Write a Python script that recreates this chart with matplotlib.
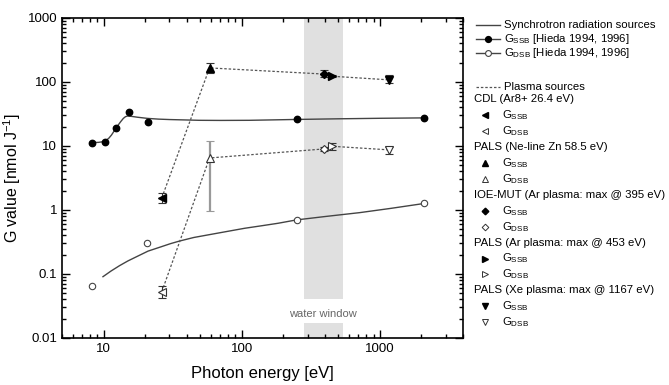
import matplotlib
matplotlib.use("Agg")
import matplotlib.pyplot as plt
from matplotlib.lines import Line2D
from matplotlib.ticker import LogLocator, NullFormatter, FixedLocator, FixedFormatter

plt.rcParams['font.family'] = ['Liberation Sans', 'DejaVu Sans']
plt.rcParams['mathtext.fontset'] = 'custom'
plt.rcParams['mathtext.rm'] = 'Liberation Sans'
plt.rcParams['mathtext.it'] = 'Liberation Sans:italic'

# ---- Synchrotron data (Hieda 1994, 1996) ----
syn_ssb_x = [8.3, 10.3, 12.4, 15.4, 20.8, 250, 2100]
syn_ssb_y = [11.2, 11.6, 19.0, 34.0, 23.8, 26.5, 27.5]
syn_dsb_x = [8.3, 20.7, 250, 2100]
syn_dsb_y = [0.066, 0.31, 0.70, 1.29]

# fitted curves
fit_ssb_x = [8.3, 9.2, 10.2, 10.9, 11.4, 12.0, 12.6, 13.3, 13.9, 14.4, 14.9, 16.0, 17.5, 20.8, 25, 30, 40, 49, 70, 113, 170, 250, 500, 1000, 2100]
fit_ssb_y = [11.3, 11.4, 11.8, 13.2, 14.8, 17.5, 20.5, 24.0, 27.0, 28.7, 29.4, 29.0, 28.2, 27.0, 26.3, 25.9, 25.5, 25.2, 25.1, 25.2, 25.6, 26.0, 26.6, 27.1, 27.5]
fit_dsb_x = [9.9, 11.3, 13.05, 15.0, 17.3, 21.0, 26.2, 30.5, 35.6, 45, 60.2, 80, 105, 140, 183, 249, 400, 716, 1200, 2120]
fit_dsb_y = [0.0908, 0.111, 0.135, 0.160, 0.186, 0.228, 0.267, 0.298, 0.328, 0.372, 0.417, 0.466, 0.518, 0.568, 0.62, 0.70, 0.79, 0.91, 1.06, 1.27]

# ---- Plasma sources ----
pl_names = ["CDL (Ar8+ 26.4 eV)", "PALS (Ne-line Zn 58.5 eV)",
            "IOE-MUT (Ar plasma: max @ 395 eV)", "PALS (Ar plasma: max @ 453 eV)",
            "PALS (Xe plasma: max @ 1167 eV)"]
pl_x = [26.4, 58.5, 395, 453, 1167]
pl_ssb = [1.55, 166, 133, 123, 108]
pl_ssb_lo = [1.3, 140, 118, 118, 96]
pl_ssb_hi = [1.85, 195, 152, 128, 129]
pl_dsb = [0.053, 6.5, 9.0, 9.9, 8.7]
pl_dsb_lo = [0.042, 0.97, 8.5, 8.7, 7.5]
pl_dsb_hi = [0.065, 11.8, 9.5, 11.0, 9.6]
pl_markers = ['<', '^', 'D', '>', 'v']
pl_msize = [5.5, 6, 4.5, 5.5, 6]

water_window = (284, 543)
water_label_x = 386
water_label_y = 0.0237

fig = plt.figure(figsize=(6.69, 3.85), dpi=100)
W, H = 669, 385
ax = fig.add_axes([62 / W, 1 - 338 / H, (463 - 62) / W, (338 - 18) / H])

ax.set_xscale('log')
ax.set_yscale('log')
ax.set_xlim(5, 4000)
ax.set_ylim(0.01, 1000)

# water window
ax.axvspan(water_window[0], water_window[1], ymin=(338 - 299) / 320, ymax=1, color='#e0e0e0', lw=0, zorder=0)
ax.axvspan(water_window[0], water_window[1], ymin=0, ymax=(338 - 323) / 320, color='#e0e0e0', lw=0, zorder=0)
ax.text(water_label_x, water_label_y, "water window", ha='center', va='center', fontsize=8, color='#666666')

# synchrotron curves
line_col = '#444444'
ax.plot(fit_ssb_x, fit_ssb_y, '-', color=line_col, lw=1.0, zorder=2)
ax.plot(fit_dsb_x, fit_dsb_y, '-', color=line_col, lw=1.0, zorder=2)
ax.plot(syn_ssb_x, syn_ssb_y, 'o', color='black', ms=4.6, zorder=4)
ax.plot(syn_dsb_x, syn_dsb_y, 'o', mfc='white', mec='#444444', mew=0.8, ms=4.6, zorder=4)

# plasma dashed lines
dash_col = '#555555'
ax.plot(pl_x, pl_ssb, color=dash_col, lw=0.9, ls=(0, (2, 1.5)), zorder=2)
ax.plot(pl_x, pl_dsb, color=dash_col, lw=0.9, ls=(0, (2, 1.5)), zorder=2)

for i in range(len(pl_x)):
    x = pl_x[i]
    # SSB
    ax.errorbar([x], [pl_ssb[i]], yerr=[[pl_ssb[i] - pl_ssb_lo[i]], [pl_ssb_hi[i] - pl_ssb[i]]],
                fmt=pl_markers[i], color='black', ms=pl_msize[i], ecolor='#333333', elinewidth=0.8,
                capsize=3, capthick=0.8, zorder=5)
    # DSB
    ecol = '#999999' if i == 1 else '#333333'
    elw = 1.6 if i == 1 else 0.8
    ax.errorbar([x], [pl_dsb[i]], yerr=[[pl_dsb[i] - pl_dsb_lo[i]], [pl_dsb_hi[i] - pl_dsb[i]]],
                fmt=pl_markers[i], mfc='white', mec='#333333', mew=0.8, ms=pl_msize[i],
                ecolor=ecol, elinewidth=elw, capsize=3, capthick=0.8, zorder=5)

# ticks
ax.yaxis.set_major_locator(FixedLocator([0.01, 0.1, 1, 10, 100, 1000]))
ax.yaxis.set_major_formatter(FixedFormatter(['0.01', '0.1', '1', '10', '100', '1000']))
ax.yaxis.set_minor_locator(LogLocator(base=10, subs=range(2, 10), numticks=20))
ax.yaxis.set_minor_formatter(NullFormatter())
ax.xaxis.set_major_locator(FixedLocator([10, 100, 1000]))
ax.xaxis.set_major_formatter(FixedFormatter(['10', '100', '1000']))
ax.xaxis.set_minor_locator(LogLocator(base=10, subs=range(2, 10), numticks=20))
ax.xaxis.set_minor_formatter(NullFormatter())
ax.tick_params(which='both', direction='in', top=True, right=True, width=1.0, labelsize=9.5)
ax.tick_params(which='major', length=6)
ax.tick_params(which='minor', length=3)
for s in ax.spines.values():
    s.set_linewidth(1.2)

ax.set_xlabel("Photon energy [eV]", fontsize=12, labelpad=8)
ax.set_ylabel("G value [nmol J$^{-1}$]", fontsize=11.5)
ax.yaxis.set_label_coords(-0.097, 0.5)

# ---- manual legend ----
def fx(px):
    return px / W

def fy(py):
    return 1 - py / H

lfs = 8.2
tf = fig.transFigure
# synchrotron group
fig.add_artist(Line2D([fx(476), fx(500)], [fy(25), fy(25)], color=line_col, lw=1.0, transform=tf))
fig.text(fx(504), fy(25), "Synchrotron radiation sources", fontsize=lfs, va='center', ha='left')
fig.add_artist(Line2D([fx(476), fx(500)], [fy(39), fy(39)], color=line_col, lw=1.0, transform=tf))
fig.add_artist(Line2D([fx(488)], [fy(39)], marker='o', color='black', ms=4.2, transform=tf))
fig.text(fx(504), fy(39), r"G$_\mathrm{SSB}$ [Hieda 1994, 1996]", fontsize=lfs, va='center', ha='left')
fig.add_artist(Line2D([fx(476), fx(500)], [fy(53), fy(53)], color=line_col, lw=1.0, transform=tf))
fig.add_artist(Line2D([fx(488)], [fy(53)], marker='o', mfc='white', mec='#444444', mew=0.8, ms=4.2, transform=tf))
fig.text(fx(504), fy(53), r"G$_\mathrm{DSB}$ [Hieda 1994, 1996]", fontsize=lfs, va='center', ha='left')

fig.add_artist(Line2D([fx(476), fx(500)], [fy(87), fy(87)], color=dash_col, lw=0.9, ls=(0, (2, 1.5)), transform=tf))
fig.text(fx(504), fy(87), "Plasma sources", fontsize=lfs, va='center', ha='left')

y0 = 99.5
step = 15.9
row = 0
for i in range(len(pl_names)):
    fig.text(fx(474), fy(y0 + row * step), pl_names[i], fontsize=lfs, va='center', ha='left')
    row += 1
    yy = y0 + row * step
    fig.add_artist(Line2D([fx(485)], [fy(yy)], marker=pl_markers[i], color='black', ms=pl_msize[i] * 0.75, transform=tf))
    fig.text(fx(502), fy(yy), r"G$_\mathrm{SSB}$", fontsize=lfs, va='center', ha='left')
    row += 1
    yy = y0 + row * step
    fig.add_artist(Line2D([fx(485)], [fy(yy)], marker=pl_markers[i], mfc='white', mec='#333333', mew=0.7,
                          ms=pl_msize[i] * 0.75, transform=tf))
    fig.text(fx(502), fy(yy), r"G$_\mathrm{DSB}$", fontsize=lfs, va='center', ha='left')
    row += 1

fig.savefig("out.png", dpi=100)
